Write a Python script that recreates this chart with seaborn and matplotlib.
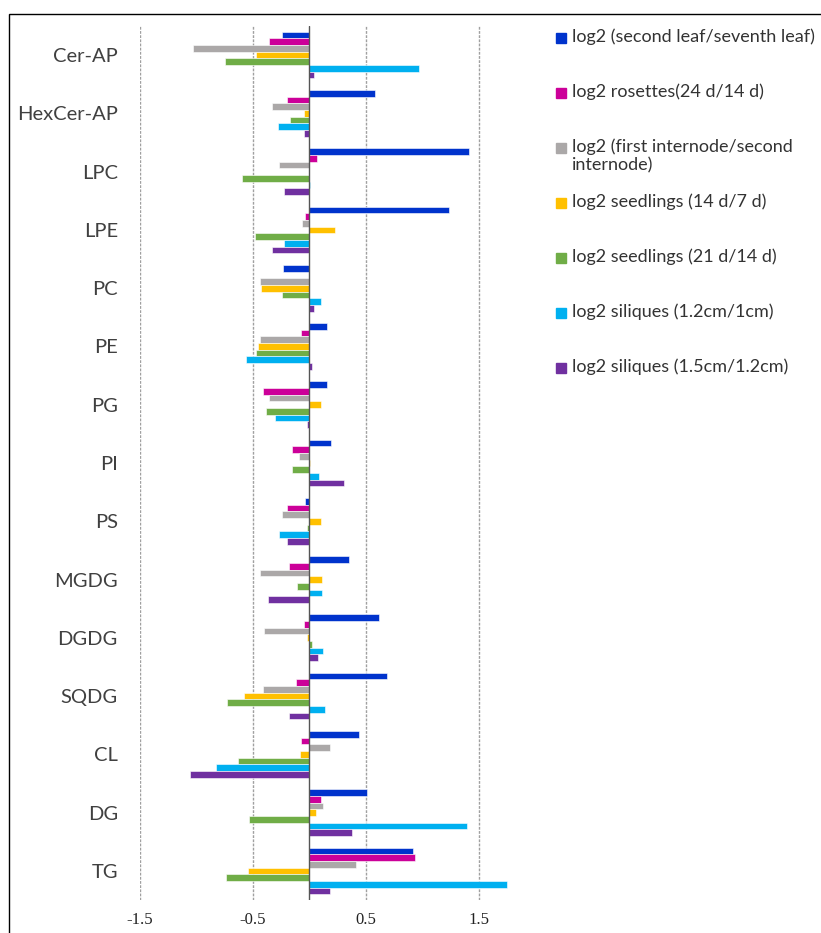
import pandas as pd
import numpy as np
import seaborn as sns
import matplotlib.pyplot as plt
from matplotlib.patches import Rectangle

lipids = ['Cer-AP', 'HexCer-AP', 'LPC', 'LPE', 'PC', 'PE', 'PG', 'PI', 'PS',
          'MGDG', 'DGDG', 'SQDG', 'CL', 'DG', 'TG']

series_names = ['log2 (second leaf/seventh leaf)',
                'log2 rosettes(24 d/14 d)',
                'log2 (first internode/second\ninternode)',
                'log2 seedlings (14 d/7 d)',
                'log2 seedlings (21 d/14 d)',
                'log2 siliques (1.2cm/1cm)',
                'log2 siliques (1.5cm/1.2cm)']

second_seventh_leaf = [-0.24, 0.58, 1.42, 1.24, -0.23, 0.16, 0.16, 0.19, -0.04,
                       0.35, 0.62, 0.69, 0.44, 0.51, 0.92]
rosettes = [-0.36, -0.20, 0.07, -0.04, 0.0, -0.07, -0.41, -0.15, -0.20,
            -0.18, -0.05, -0.12, -0.07, 0.10, 0.94]
internode = [-1.03, -0.33, -0.27, -0.06, -0.44, -0.44, -0.36, -0.09, -0.24,
             -0.44, -0.40, -0.41, 0.18, 0.12, 0.41]
seedlings_14_7 = [-0.47, -0.05, 0.0, 0.23, -0.43, -0.45, 0.10, 0.01, 0.10,
                  0.11, -0.02, -0.58, -0.08, 0.06, -0.54]
seedlings_21_14 = [-0.75, -0.17, -0.60, -0.48, -0.24, -0.47, -0.38, -0.15, -0.02,
                   -0.11, 0.02, -0.73, -0.63, -0.53, -0.74]
siliques_12_1 = [0.97, -0.28, 0.01, -0.22, 0.10, -0.56, -0.30, 0.09, -0.27,
                 0.11, 0.12, 0.14, -0.83, 1.40, 1.75]
siliques_15_12 = [0.04, -0.05, -0.22, -0.33, 0.04, 0.02, -0.02, 0.31, -0.20,
                  -0.37, 0.08, -0.18, -1.06, 0.38, 0.18]

colors = ['#0033CC', '#CC0099', '#ABA8A8', '#FFC000', '#70AD47', '#00B0F0', '#7030A0']

all_values = [second_seventh_leaf, rosettes, internode, seedlings_14_7,
              seedlings_21_14, siliques_12_1, siliques_15_12]
df = pd.DataFrame({
    'lipid': lipids * len(series_names),
    'series': np.repeat(series_names, len(lipids)),
    'value': np.concatenate(all_values),
})

sns.set_style('white')
plt.rcParams['font.family'] = ['Lato', 'DejaVu Sans']

W, H = 821, 933
fig = plt.figure(figsize=(W / 100, H / 100), dpi=100)
ax = fig.add_axes([140 / W, 1 - 900 / H, 378 / W, (900 - 26) / H])

sns.barplot(data=df, y='lipid', x='value', hue='series', orient='h',
            palette=colors, hue_order=series_names, order=lipids, saturation=1,
            width=0.8, edgecolor='white', linewidth=0.4, legend=False, ax=ax)

ax.set_xlim(-1.5, 1.85)
ax.set_ylim(14.5, -0.5)
ax.set_xticks([-1.5, -0.5, 0.5, 1.5])
ax.set_xticklabels(['-1.5', '-0.5', '0.5', '1.5'], family='Liberation Serif',
                   fontsize=12, color='#222222')
ax.set_xlabel('')
ax.set_ylabel('')
ax.tick_params(axis='y', labelsize=14.5, colors='#404040', pad=16, length=0)
ax.tick_params(axis='x', length=0, pad=9)
for x in [-1.5, -0.5, 0.5, 1.5]:
    ax.axvline(x, color='#A0A0A0', lw=1, ls=(0, (2, 1)), zorder=0)
ax.axvline(0, color='#555555', lw=1, zorder=3)
for s in ax.spines.values():
    s.set_visible(False)

# legend drawn by hand so the wrapped entry keeps its marker on the first line
for i, (name, c) in enumerate(zip(series_names, colors)):
    y = 38 + 55 * i
    fig.add_artist(Rectangle((556 / W, 1 - (y + 5) / H), 10 / W, 10 / H,
                             transform=fig.transFigure, color=c))
    fig.text(572 / W, 1 - (y - 10) / H, name, fontsize=13, color='#333333',
             va='top', ha='left', linespacing=1.2)

fig.add_artist(Rectangle((9 / W, -0.1), 1.0, 1 - 14 / H + 0.1,
                         transform=fig.transFigure, fill=False, ec='black', lw=1))

fig.savefig('out.png', dpi=100)
